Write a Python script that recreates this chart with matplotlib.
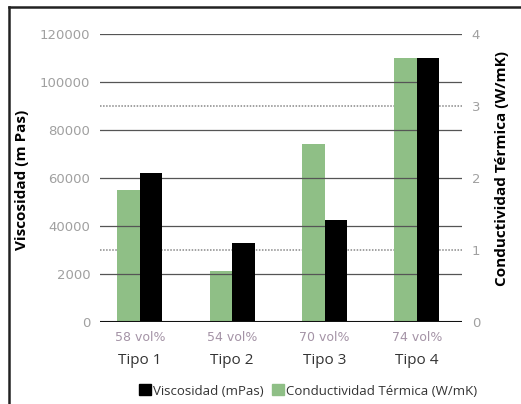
import matplotlib.pyplot as plt
from matplotlib.lines import Line2D
from matplotlib.patches import Patch

# datos de las cuatro formulaciones
tipos = ['Tipo 1', 'Tipo 2', 'Tipo 3', 'Tipo 4']
carga = ['58 vol%', '54 vol%', '70 vol%', '74 vol%']
viscosidad = [62000, 33000, 42500, 110000]       # mPas
conductividad = [1.83, 0.71, 2.47, 3.67]          # W/mK

visc_ticks = [0, 20000, 40000, 60000, 80000, 100000, 120000]
visc_ticklabels = ['0', '2000', '40000', '60000', '80000', '100000', '120000']
cond_ticks = [0, 1, 2, 3, 4]

verde = '#8fbf86'
gris_tick = '#a0a0a0'

fig = plt.figure(figsize=(5.21, 4.04), dpi=100)
ax = fig.add_axes([100 / 521, 1 - 322 / 404, 362 / 521, 288 / 404])
ax2 = ax.twinx()

x = list(range(len(tipos)))
w = 0.244

ax2.bar([i - w / 2 for i in x], conductividad, width=w, color=verde, zorder=3)
ax.bar([i + w / 2 for i in x], viscosidad, width=w, color='black', zorder=3)

ax.set_xlim(-0.433, 3.49)
ax.set_ylim(0, 120000)
ax2.set_ylim(0, 4)

# lineas horizontales
for v in visc_ticks[1:]:
    ax.axhline(v, color='#555555', lw=0.9, zorder=1)
for v in [1, 3]:
    ax2.axhline(v, color='#888888', lw=1.1, ls=(0, (1, 1)), zorder=1)
ax.axhline(0, color='#111111', lw=1.5, zorder=4)

ax.set_zorder(ax2.get_zorder() + 1)
ax.patch.set_visible(False)

ax.set_yticks(visc_ticks)
ax.set_yticklabels(visc_ticklabels)
ax2.set_yticks(cond_ticks)
for a in (ax, ax2):
    a.tick_params(axis='y', length=0, labelsize=9.5, labelcolor=gris_tick, pad=7)
    a.set_xticks([])
    for s in a.spines.values():
        s.set_visible(False)

# etiquetas de categoria
tr = ax.get_xaxis_transform()
for i in x:
    ax.text(i, -0.055, carga[i], transform=tr, ha='center', va='center',
            fontsize=9, color='#a493a6', family='DejaVu Sans')
    ax.text(i, -0.135, tipos[i], transform=tr, ha='center', va='center',
            fontsize=11, color='#333333', family='Open Sans')

fig.text(22 / 521, 1 - 180 / 404, 'Viscosidad (m Pas)', rotation=90,
         ha='center', va='center', fontsize=11, fontweight='bold',
         family='Open Sans', color='black')
fig.text(502 / 521, 1 - 168 / 404, 'Conductividad Térmica (W/mK)', rotation=90,
         ha='center', va='center', fontsize=11, fontweight='bold',
         family='Open Sans', color='black')

handles = [Patch(color='black'), Patch(color=verde)]
labels = ['Viscosidad (mPas)', 'Conductividad Térmica (W/mK)']
fig.legend(handles, labels, ncol=2, loc='center', bbox_to_anchor=(308 / 521, 1 - 391 / 404),
           frameon=False, handlelength=0.9, handleheight=0.9, handletextpad=0.2,
           columnspacing=0.6, prop={'family': 'Open Sans', 'size': 9.5},
           labelcolor='#333333')

# marco
fig.add_artist(Line2D([9 / 521, 9 / 521], [0, 1 - 7 / 404], color='#222222', lw=1.8))
fig.add_artist(Line2D([9 / 521, 1], [1 - 7 / 404, 1 - 7 / 404], color='#222222', lw=1.8))

fig.savefig('out.png', dpi=100)
